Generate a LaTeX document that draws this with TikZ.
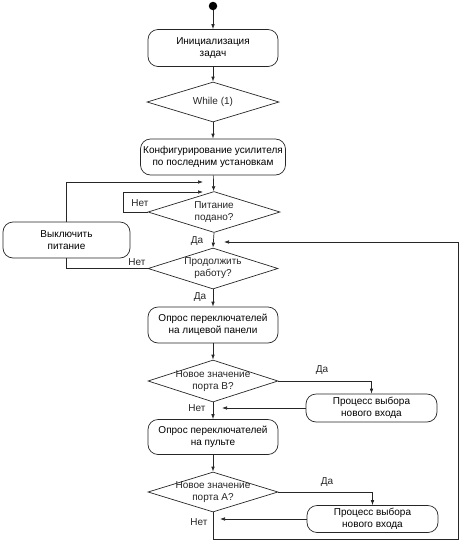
\documentclass[tikz,border=0pt]{standalone}
\usepackage{fontspec}
\setmainfont{Liberation Sans}
\usetikzlibrary{arrows.meta,shapes.geometric}
\begin{document}
\begin{tikzpicture}[x=1pt,y=-1pt,
  font=\fontsize{10}{12}\selectfont,
  line/.style={draw=black!85, line width=0.7pt},
  arr/.style={line, -{Latex[length=5pt,width=3.6pt]}},
  rbox/.style={draw=black!85, line width=0.7pt, rounded corners=10pt, align=center, inner sep=1pt},
  dia/.style={draw=black!85, line width=0.7pt, diamond, inner sep=0pt},
  lbl/.style={inner sep=0pt, align=center, text=black!85}
]
\useasboundingbox (0,0) rectangle (461,542);

\node[circle, fill=black, inner sep=0pt, minimum size=8.5pt] (start) at (213,6) {};
\node[rbox, minimum width=130pt, minimum height=37pt] (b1) at (213,48) {Инициализация\\задач};
\node[dia, minimum width=132pt, minimum height=40pt] (d1) at (213,102) {};
\node[lbl] (d1t) at (d1) {While (1)};
\node[rbox, minimum width=145pt, minimum height=36pt] (b2) at (213,157) {Конфигурирование усилителя\\по последним установкам};
\node[dia, minimum width=132pt, minimum height=41pt] (d2) at (214,212) {};
\node[lbl] (d2t) at (d2) {Питание\\подано?};
\node[dia, minimum width=130pt, minimum height=41pt] (d3) at (213,268.5) {};
\node[lbl] (d3t) at (d3) {Продолжить\\работу?};
\node[rbox, minimum width=127pt, minimum height=36pt] (off) at (66.5,240) {Выключить\\питание};
\node[rbox, minimum width=130pt, minimum height=36pt] (b3) at (213,325) {Опрос переключателей\\на лицевой панели};
\node[dia, minimum width=130pt, minimum height=42pt] (d4) at (213,381) {};
\node[lbl] (d4t) at (d4) {Новое значение\\порта B?};
\node[rbox, minimum width=131pt, minimum height=28pt] (p1) at (371.5,408) {Процесс выбора\\нового входа};
\node[rbox, minimum width=130pt, minimum height=35pt] (b4) at (213,437) {Опрос переключателей\\на пульте};
\node[dia, minimum width=130pt, minimum height=40pt] (d5) at (213,492) {};
\node[lbl] (d5t) at (d5) {Новое значение\\порта A?};
\node[rbox, minimum width=131pt, minimum height=27pt] (p2) at (372.5,519) {Процесс выбора\\нового входа};

% labels
\node[lbl] (n1) at (140,203) {Нет};
\node[lbl] (y1) at (197,241) {Да};
\node[lbl] (n2) at (137,262) {Нет};
\node[lbl] (y2) at (200,297) {Да};
\node[lbl] (y3) at (322,370) {Да};
\node[lbl] (n3) at (197,408) {Нет};
\node[lbl] (y4) at (327,482) {Да};
\node[lbl] (n4) at (199,522) {Нет};

% junction coordinates
\coordinate (j1) at (203,182);
\coordinate (j2) at (203,192);
\coordinate (j3) at (222,408);
\coordinate (j4) at (220,519);
\coordinate (j5) at (224,242);
\coordinate (c1) at (458,539);

\draw[arr] (start) -- (b1);
\draw[arr] (b1) -- (d1);
\draw[arr] (d1) -- (b2);
\draw[arr] (b2) -- (d2);
\draw[arr] (off.north) |- (j1);
\draw[arr] (d2.west) -- ++(-24,0) |- (j2);
\draw[arr] (d2.south) -- (d3.north);
\draw[line] (d3.west) -| (off.south);
\draw[arr] (d3) -- (b3);
\draw[arr] (b3) -- (d4);
\draw[arr] (d4.east) -| (p1.north);
\draw[arr] (p1.west) -- (j3);
\draw[arr] (d4) -- (b4);
\draw[arr] (b4) -- (d5);
\draw[arr] (d5.east) -| (p2.north);
\draw[arr] (p2.west) -- (j4);
\draw[arr] (d5.south) |- (c1) |- (j5);
\end{tikzpicture}
\end{document}
